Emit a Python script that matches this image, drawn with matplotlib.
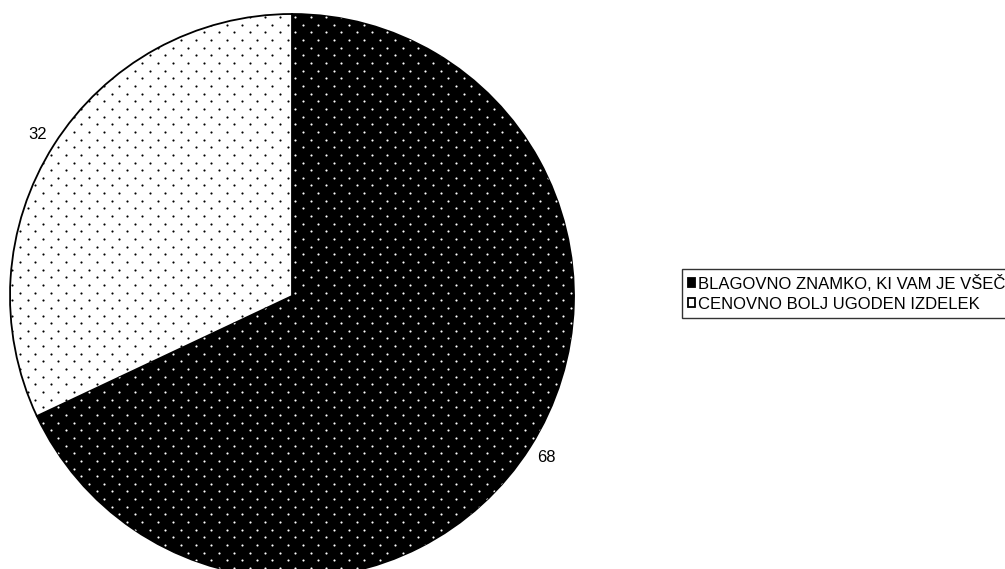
import numpy as np
import matplotlib
matplotlib.use("Agg")
import matplotlib.pyplot as plt

plt.rcParams["font.family"] = ["Liberation Sans", "DejaVu Sans"]

# Survey shares
values = [68, 32]
categories = ["BLAGOVNO ZNAMKO, KI VAM JE VŠEČ", "CENOVNO BOLJ UGODEN IZDELEK"]
face_colors = ["black", "white"]
dot_colors = ["white", "black"]

W, H, DPI = 1005, 569, 100
CX, CY, R = 292, 273, 282  # pie centre (px from bottom-left) and radius in px

fig = plt.figure(figsize=(W / DPI, H / DPI), dpi=DPI)
ax = fig.add_axes([0, 0, 1, 1])

wedges, texts = ax.pie(
    values,
    labels=[str(v) for v in values],
    colors=face_colors,
    startangle=90,
    counterclock=False,
    labeldistance=1.07,
    wedgeprops=dict(edgecolor="black", linewidth=1.3),
    textprops=dict(fontsize=12),
    frame=True,
)
ax.axis("off")
ax.set_xlim(-CX / R, (W - CX) / R)
ax.set_ylim(-CY / R, (H - CY) / R)
for t in texts:
    t.set_ha("center")

# dotted texture inside each slice (staggered lattice)
step = 15.3 / R
xs = np.arange(-1.1, 1.1, step)
rows = np.arange(-1.1, 1.1, step / 2)
gx, gy = [], []
for i, y in enumerate(rows):
    off = step / 2 if i % 2 else 0.0
    gx.extend(xs + off)
    gy.extend([y] * len(xs))
gx, gy = np.array(gx), np.array(gy)
for w, dc in zip(wedges, dot_colors):
    sc = ax.scatter(gx, gy, s=2.4, c=dc, linewidths=0, zorder=w.get_zorder() + 0.5)
    sc.set_clip_path(w)

leg = fig.legend(
    wedges, categories,
    loc="upper left",
    bbox_to_anchor=(682 / W, 1 - 269 / H),
    borderaxespad=0,
    fontsize=12,
    frameon=True,
    fancybox=False,
    handlelength=0.45,
    handleheight=0.45,
    handletextpad=0.18,
    borderpad=0.35,
    labelspacing=0.3,
)
leg.get_frame().set_edgecolor("black")
leg.get_frame().set_linewidth(1.0)

fig.savefig("out.png", dpi=DPI)
